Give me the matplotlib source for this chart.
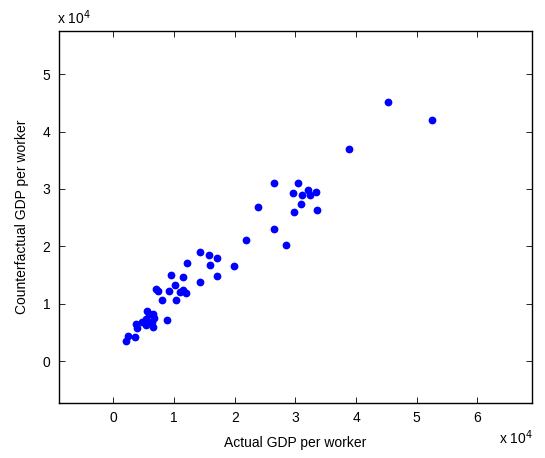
import matplotlib
matplotlib.use("Agg")
import matplotlib.pyplot as plt
import numpy as np

plt.rcParams['font.family'] = ['Liberation Sans', 'DejaVu Sans']

# GDP per worker, in units of 10^4
actual = [5.25, 4.52, 3.88,
          2.64, 3.04, 2.96, 3.11, 3.21, 3.24, 3.34, 3.09, 2.98, 3.36,
          2.39, 2.64, 2.19, 2.84,
          1.43, 1.58, 1.71, 1.21, 1.59, 1.99, 0.95, 1.14, 1.70, 1.42,
          1.02, 0.70, 0.74, 0.91, 1.15, 1.10, 1.19, 0.80, 1.03,
          0.56, 0.59, 0.65, 0.67, 0.53, 0.88, 0.38, 0.47, 0.63, 0.53,
          0.65, 0.39, 0.24, 0.36, 0.21]
counterfactual = [4.21, 4.51, 3.69,
                  3.10, 3.10, 2.93, 2.89, 2.98, 2.90, 2.94, 2.73, 2.60, 2.64,
                  2.69, 2.30, 2.11, 2.03,
                  1.90, 1.85, 1.79, 1.71, 1.68, 1.65, 1.50, 1.46, 1.49, 1.38,
                  1.32, 1.25, 1.22, 1.23, 1.24, 1.20, 1.19, 1.07, 1.07,
                  0.88, 0.83, 0.82, 0.75, 0.73, 0.72, 0.64, 0.68, 0.68, 0.63,
                  0.60, 0.57, 0.44, 0.42, 0.35]
ticks = [0, 1, 2, 3, 4, 5, 6]

fig = plt.figure(figsize=(5.45, 4.58), dpi=100)
ax = fig.add_axes([0.108, 0.120, 0.868, 0.812])

ax.plot(actual, counterfactual, 'o', color=(0, 0, 1), markersize=5.6,
        markeredgewidth=0)

ax.set_xlim(-0.9, 6.9)
ax.set_ylim(-0.73, 5.75)
ax.set_xticks(ticks)
ax.set_yticks(ticks[:6])
ax.tick_params(direction='in', length=4, width=0.6, top=True, right=True,
               labelsize=10, pad=6)
for s in ax.spines.values():
    s.set_linewidth(1.0)

ax.set_xlabel('Actual GDP per worker', fontsize=10, labelpad=8)
ax.set_ylabel('Counterfactual GDP per worker', fontsize=10, labelpad=10)

fig.text(0.105, 0.940, r'x 10$^{4}$', fontsize=10, ha='left', va='bottom')
fig.text(0.915, 0.024, r'x 10$^{4}$', fontsize=10, ha='left', va='bottom')

fig.savefig('out.png', dpi=100)
